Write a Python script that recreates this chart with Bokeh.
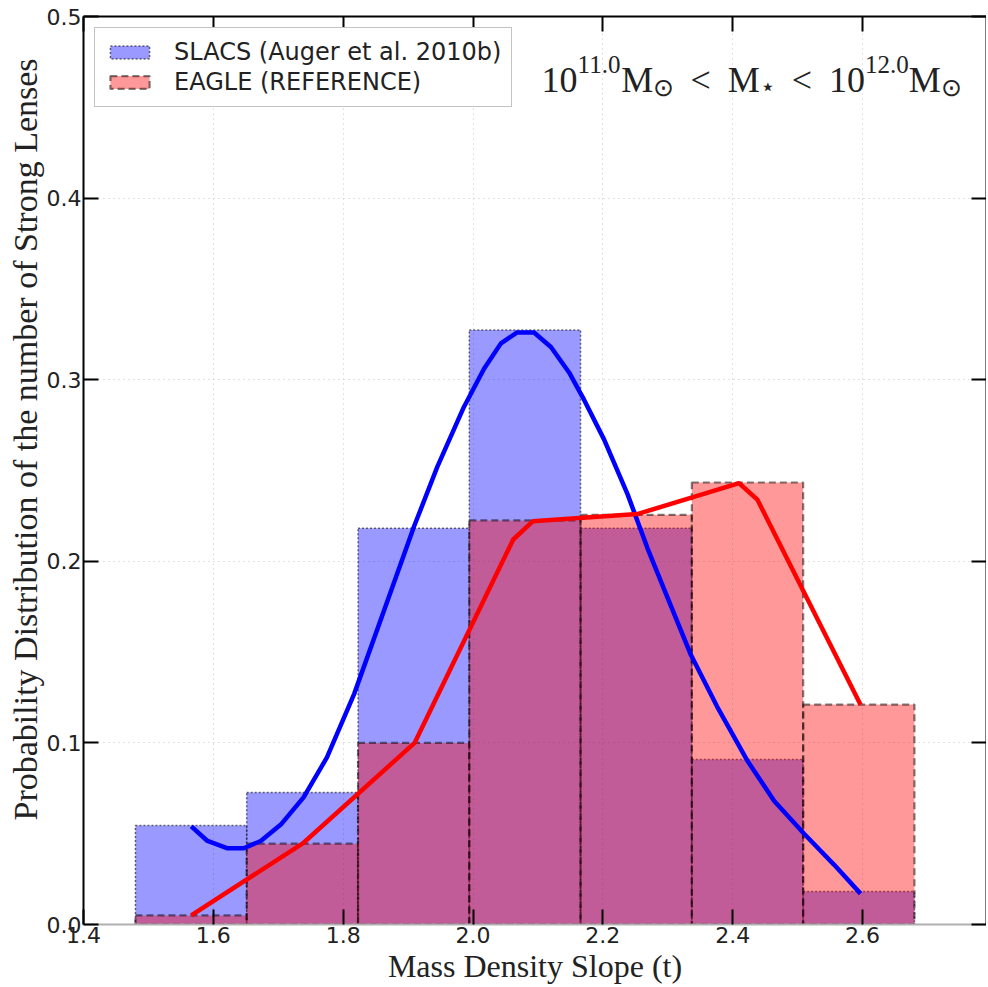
from bokeh.plotting import figure
from bokeh.models import LinearAxis, Label, FixedTicker, Title
from bokeh.embed import file_html
from bokeh.resources import INLINE

# ---------------- data ----------------
bin_edges = [1.48, 1.6514, 1.8229, 1.9943, 2.1657, 2.3371, 2.5086, 2.68]
slacs_vals = [0.0545, 0.0727, 0.2182, 0.3273, 0.2182, 0.0909, 0.0182]
eagle_vals = [0.005, 0.0445, 0.100, 0.2225, 0.2256, 0.2434, 0.1211]

slacs_fit_x = [1.566, 1.591, 1.621, 1.647, 1.673, 1.704, 1.739, 1.775, 1.817, 1.858,
               1.909, 1.945, 1.986, 2.017, 2.043, 2.068, 2.094, 2.120, 2.148, 2.171,
               2.202, 2.238, 2.269, 2.294, 2.335, 2.376, 2.423, 2.464, 2.510, 2.556, 2.597]
slacs_fit_y = [0.054, 0.046, 0.042, 0.042, 0.046, 0.055, 0.070, 0.092, 0.127, 0.168,
               0.219, 0.252, 0.285, 0.306, 0.320, 0.326, 0.326, 0.318, 0.304, 0.289,
               0.267, 0.237, 0.207, 0.185, 0.149, 0.120, 0.090, 0.068, 0.050, 0.033, 0.017]

eagle_fit_x = [1.566, 1.739, 1.910, 2.062, 2.092, 2.253, 2.410, 2.438, 2.597]
eagle_fit_y = [0.005, 0.045, 0.100, 0.212, 0.222, 0.226, 0.243, 0.234, 0.121]

x_ticks = [1.4, 1.6, 1.8, 2.0, 2.2, 2.4, 2.6]
x_tick_labels = ["1.4", "1.6", "1.8", "2.0", "2.2", "2.4", "2.6"]
y_ticks = [0.0, 0.1, 0.2, 0.3, 0.4, 0.5]
y_tick_labels = ["0.0", "0.1", "0.2", "0.3", "0.4", "0.5"]

legend_slacs = "SLACS (Auger et al. 2010b)"
legend_eagle = "EAGLE (REFERENCE)"
x_title = "Mass Density Slope (t)"
y_title = "Probability Distribution of the number of Strong Lenses"

# ---------------- figure ----------------
p = figure(width=986, height=987, x_range=(1.4, 2.791), y_range=(0, 0.5),
           output_backend="svg", toolbar_location=None,
           min_border_left=83, min_border_right=0, min_border_top=16, min_border_bottom=63)
p.outline_line_color = None

xt = FixedTicker(ticks=x_ticks)
yt = FixedTicker(ticks=y_ticks)

for ax, tk, labs in ((p.xaxis[0], xt, x_tick_labels), (p.yaxis[0], yt, y_tick_labels)):
    ax.ticker = tk
    ax.major_label_overrides = {t: l for t, l in zip(tk.ticks, labs)}
    ax.major_tick_in = 15
    ax.major_tick_out = 0
    ax.minor_tick_in = 0
    ax.minor_tick_out = 0
    ax.major_tick_line_width = 2
    ax.major_label_text_font = "DejaVu Sans"
    ax.major_label_text_font_size = "22px"
    ax.major_label_text_color = "#222222"
    ax.major_label_standoff = 2

p.xaxis[0].axis_line_color = "#b0b0b0"
p.xaxis[0].axis_line_width = 2
p.yaxis[0].axis_line_width = 2

for loc, tk in (("above", xt), ("right", yt)):
    ax = LinearAxis(ticker=tk, major_label_text_font_size="1px", major_label_standoff=0,
                    major_label_overrides={t: "" for t in tk.ticks},
                    major_tick_in=15, major_tick_out=0, minor_tick_in=0, minor_tick_out=0,
                    major_tick_line_width=2, axis_line_width=2)
    p.add_layout(ax, loc)

# axis titles as side titles (serif)
p.add_layout(Title(text=x_title, align="center", standoff=0,
                   text_font="Liberation Serif", text_font_size="32px",
                   text_font_style="normal", text_color="#222222"), "below")
p.add_layout(Title(text=y_title, align="left", offset=104, standoff=0,
                   text_font="Liberation Serif", text_font_size="34px",
                   text_font_style="normal", text_color="#222222"), "left")

p.xgrid.ticker = xt
p.ygrid.ticker = yt
for g in (p.xgrid[0], p.ygrid[0]):
    g.grid_line_color = "#c4c4c4"
    g.grid_line_dash = "1 4"
    g.grid_line_width = 1

# histograms
p.quad(left=bin_edges[:-1], right=bin_edges[1:], top=slacs_vals, bottom=0,
       fill_color="blue", fill_alpha=0.4, line_color="black", line_alpha=0.55,
       line_dash="2 2", line_width=1.5, legend_label=legend_slacs)
p.quad(left=bin_edges[:-1], right=bin_edges[1:], top=eagle_vals, bottom=0,
       fill_color="red", fill_alpha=0.4, line_color="black", line_alpha=0.5,
       line_dash="7 4", line_width=2.2, legend_label=legend_eagle)

# fitted curves
p.line(slacs_fit_x, slacs_fit_y, line_color="blue", line_width=4.5)
p.line(eagle_fit_x, eagle_fit_y, line_color="red", line_width=4.5)

# legend
lg = p.legend[0]
lg.location = "top_left"
lg.margin = 11
lg.padding = 10
lg.spacing = 2
lg.glyph_width = 49
lg.glyph_height = 16
lg.label_standoff = 20
lg.label_text_font = "DejaVu Sans"
lg.label_text_font_size = "24px"
lg.label_text_color = "#222222"
lg.border_line_color = "#888888"
lg.border_line_width = 1.5
lg.background_fill_alpha = 1.0

# annotation: 10^{11.0} M_sun < M_* < 10^{12.0} M_sun
main_size = 36
small_size = 25
em = {"0": .5, "1": .5, "2": .5, ".": .25, "M": .889, "<": .564, "\u2299": .8, "\u22c6": .6}
pieces = [("10", main_size, 0), ("11.0", small_size, 15), ("M", main_size, 0), ("\u2299", small_size, -8),
          (None, 17, 0), ("<", main_size, 0), (None, 17, 0),
          ("M", main_size, 0), ("\u22c6", small_size, -7),
          (None, 17, 0), ("<", main_size, 0), (None, 17, 0),
          ("10", main_size, 0), ("12.0", small_size, 15), ("M", main_size, 0), ("\u2299", small_size, -8)]
anchor_x, anchor_y = 2.1057, 0.4653
off = 0.0
for txt, size, dy in pieces:
    if txt is None:
        off += size
        continue
    p.add_layout(Label(x=anchor_x, y=anchor_y, x_offset=off, y_offset=dy, text=txt,
                       text_font="Liberation Serif", text_font_size=f"{size}px",
                       text_baseline="alphabetic", text_align="left", text_color="#222222"))
    off += sum(em.get(c, .5) for c in txt) * size

open("out.html", "w").write(file_html(p, INLINE))
